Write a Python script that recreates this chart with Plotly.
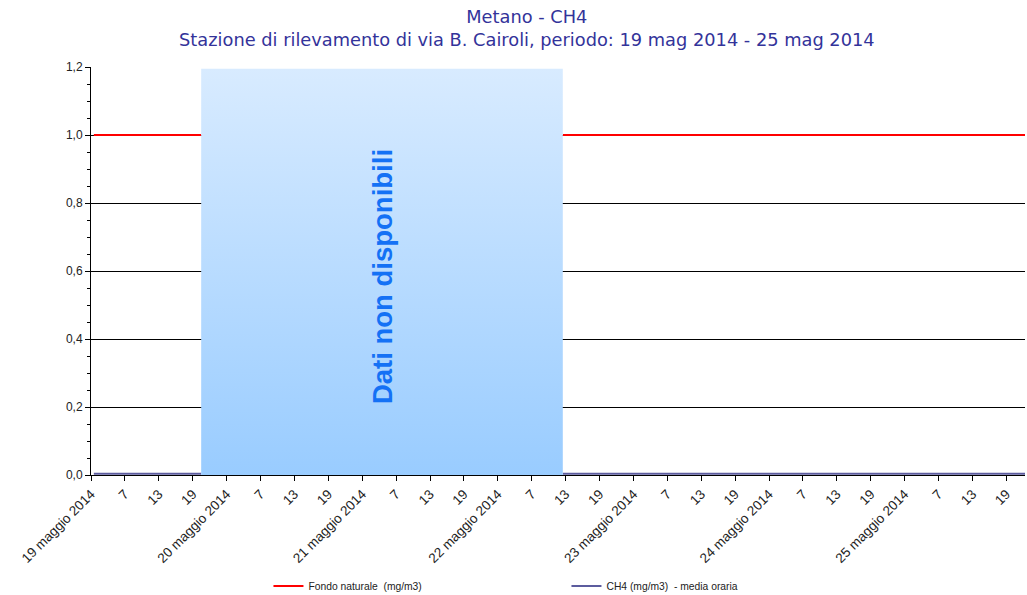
import plotly.graph_objects as go

# --- data ---
giorni = ["2014-05-19", "2014-05-20", "2014-05-21", "2014-05-22",
          "2014-05-23", "2014-05-24", "2014-05-25"]
etichette_giorni = ["19 maggio 2014", "20 maggio 2014", "21 maggio 2014", "22 maggio 2014",
                    "23 maggio 2014", "24 maggio 2014", "25 maggio 2014"]
ore_tick = ["01:00", "07:00", "13:00", "19:00"]
etichette_ore = ["7", "13", "19"]

# gap with no data ("Dati non disponibili")
gap_inizio = "2014-05-19 20:30"
gap_fine = "2014-05-22 12:30"
gap_top = 1.195

# Fondo naturale (constant threshold) - two segments around the gap
fondo_x = ["2014-05-19 01:30", gap_inizio, None, gap_fine, "2014-05-25 23:00"]
fondo_y = [1.0, 1.0, None, 1.0, 1.0]

# CH4 hourly mean - essentially zero where available
ch4_x = ["2014-05-19 01:30", gap_inizio, None, gap_fine, "2014-05-25 23:00"]
ch4_y = [0.004, 0.004, None, 0.004, 0.004]

x_range = ["2014-05-19 01:00", "2014-05-25 22:18"]

tickvals, ticktext = [], []
for g, lab in zip(giorni, etichette_giorni):
    for i, h in enumerate(ore_tick):
        tickvals.append(f"{g} {h}")
        ticktext.append(lab if i == 0 else etichette_ore[i - 1])

fig = go.Figure()

fig.add_trace(go.Scatter(
    x=fondo_x, y=fondo_y, mode="lines", name="Fondo naturale  (mg/m3)",
    line=dict(color="#ff0000", width=2), connectgaps=False
))

fig.add_trace(go.Scatter(
    x=ch4_x, y=ch4_y, mode="lines", name="CH4 (mg/m3)  - media oraria",
    line=dict(color="#5c5c9e", width=2), connectgaps=False
))

# shaded "no data" block with vertical gradient
fig.add_trace(go.Scatter(
    x=[gap_inizio, gap_fine, gap_fine, gap_inizio, gap_inizio],
    y=[0, 0, gap_top, gap_top, 0],
    mode="lines", fill="toself", line=dict(width=0),
    fillgradient=dict(type="vertical",
                      colorscale=[[0, "#99ccff"], [1, "#d8ebff"]]),
    showlegend=False, hoverinfo="skip"
))

fig.add_annotation(
    x="2014-05-21 04:30", y=0.585, text="Dati non disponibili",
    textangle=-90, showarrow=False,
    font=dict(family="Liberation Sans", size=27.5, color="#1471f5", weight="bold")
)

fig.update_layout(
    width=1027, height=595,
    margin=dict(l=91, r=2, t=67, b=120, autoexpand=False),
    paper_bgcolor="white", plot_bgcolor="white",
    separators=",.",
    font=dict(family="Liberation Sans", size=12, color="#222222"),
    title=dict(
        text="Metano - CH4<br>Stazione di rilevamento di via B. Cairoli, periodo: 19 mag 2014 - 25 mag 2014",
        x=0.513, xanchor="center", y=1 - 23 / 595, yanchor="top", yref="container",
        font=dict(family="DejaVu Sans", size=17.8, color="#33339a")
    ),
    xaxis=dict(
        type="date", range=x_range, automargin=False,
        tickmode="array", tickvals=tickvals, ticktext=ticktext,
        tickangle=-45, ticks="outside", ticklen=5, tickcolor="black",
        showgrid=False, showline=True, linecolor="black", linewidth=1,
        tickfont=dict(size=13.5, color="#222222"), zeroline=False
    ),
    yaxis=dict(
        range=[0, 1.2], dtick=0.2, tickformat=".1f", automargin=False,
        ticks="outside", ticklen=5, tickcolor="black",
        minor=dict(dtick=0.05, ticks="outside", ticklen=3, tickcolor="black", showgrid=False),
        showgrid=True, gridcolor="black", gridwidth=1,
        showline=True, linecolor="black", linewidth=1, zeroline=False,
        tickfont=dict(size=12, color="#222222")
    ),
    legend=dict(
        orientation="h", x=0.19, xanchor="left", y=-0.272, yanchor="middle",
        entrywidth=253, entrywidthmode="pixels",
        font=dict(family="Liberation Sans", size=10.3, color="#222222"),
        bgcolor="rgba(0,0,0,0)", itemwidth=30
    ),
    showlegend=True
)

# the page body has a default 8px margin; drop it so the figure fills the window
fig.write_html("out.html", config={"displayModeBar": False},
               post_script="document.body.style.margin='0';")
